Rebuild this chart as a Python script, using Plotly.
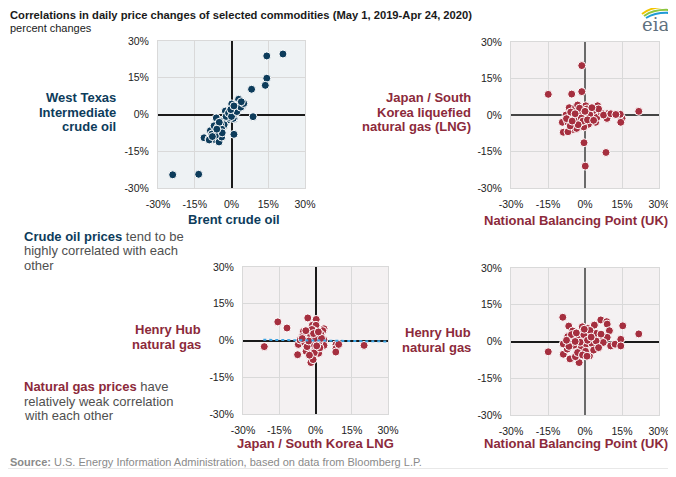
import plotly.graph_objects as go

# window 676x477; page body has an 8px margin, so the figure starts at (8, 8)
WIN_W, WIN_H = 676, 477
OFF = 8
W, H = WIN_W - OFF, WIN_H - 2 * OFF

# ---------------- data (percent changes) ----------------
brent_x = [21.0, 14.4, 14.4, 13.8, 8.2, 8.8, -24.0, -13.4, 1.0, -11.2, -9.2, -6.6, -5.1, -4.0,
           -8.6, -7.1, -5.4, -6.2, -4.3, -2.1, -2.5, 0.3, 0.5, 0.1, 2.9, 2.4, 1.1, -0.6, 4.2,
           -4.7, -7.4, -3.3, -8.0, -9.1, -0.1, 1.6, 0.7,
           -1.5, -1.0, -0.5, 0.8, 1.2, 2.0, 3.0, 3.5, 4.5, -2.8, -3.5, -1.8, -0.8, 0.2, 1.5,
           2.5, -3.0, -4.5, -5.5, -6.5, -4.0, -2.2, 0.6, 1.8, -1.2, 0.0, 2.2, 3.8, -5.0, -3.8,
           -6.0, -7.8, 5.0, 4.0, -0.3, 1.0]
wti_y = [24.7, 23.9, 14.8, 11.9, 10.3, -0.9, -24.6, -24.4, -8.1, -9.5, -10.0, -10.3, -11.2, -9.2,
         -6.6, -4.6, -5.0, -1.4, -2.9, -2.0, 1.4, 0.1, 2.8, 4.3, 6.2, 2.8, -1.7, 1.7, 4.1,
         -6.6, -7.7, -5.0, -8.0, -10.4, 0.2, 1.7, -1.6,
         -1.0, -0.5, 0.3, 0.9, 1.5, 2.2, 3.5, 4.5, 3.8, -3.5, -2.8, -2.3, -1.2, -0.4, 0.5,
         3.0, -4.2, -4.0, -7.0, -8.5, -6.0, -0.8, 1.0, 2.6, 0.6, -0.8, 1.2, 3.0, -3.2, -7.5,
         -6.0, -9.0, 4.5, 5.2, 2.0, 3.5]

nbp_x1 = [-1.3, -14.9, -5.4, -1.3, -0.4, 0.1, 8.5, 21.8, 15.0, 14.5, 14.3, 9.0, 8.9, 5.1, 0.3,
          4.3, 1.4, -0.5, -5.1, -8.8, -6.9, -9.2, -6.9, -7.7, -6.4, -3.8, -3.0, -3.8, 3.0, 3.8,
          6.1, 11.5, -2.0, -3.4,
          -1.0, 0.5, 1.5, -2.5, 2.5, -4.5, -5.8, -3.0, 0.8, 2.0, -1.5, 4.8, 6.5, 7.5, -0.8,
          1.0, -2.2, -4.0, 3.5, 5.5, -6.0, -7.5, 0.0, -2.8, 2.8, 10.5, 12.5, -5.2]
jkm_y1 = [20.3, 8.5, 8.6, 9.6, -11.4, -21.0, -15.4, 1.5, -1.4, -3.0, 0.3, 0.5, -1.4, 3.8, 3.8,
          -3.0, -3.8, -4.9, -6.0, -7.1, -6.9, -3.0, -3.0, 0.0, 3.0, 3.3, 4.1, -1.0, 2.1, 0.3,
          0.5, 0.3, -3.0, -5.5,
          0.5, -0.5, 1.0, 1.5, -1.5, -2.0, 1.2, -1.8, 2.5, 0.0, -1.2, -1.0, 1.0, 0.0, -2.5,
          -2.0, 2.8, 0.5, -2.2, 2.5, -4.5, -1.5, 1.5, -4.0, 3.0, 0.5, 0.2, -2.5]

jkm_x2 = [-21.2, -15.6, -11.8, -7.4, -7.1, -5.0, -3.2, -3.2, 0.3, -1.3, 0.2, -0.6, 3.5, 3.0, 3.5,
          3.5, 1.3, -0.2, -1.2, -1.9, -3.9, 8.5, 8.5, 8.4, 9.6, 20.1, -6.4, -2.3, -5.4, 1.0,
          -0.5, -3.0,
          -1.0, 0.8, -2.0, 1.5, -4.5, -0.5, 2.2, -3.5, 0.0, -1.5, 1.8, -2.8, 2.5, -0.8, -5.5,
          -1.0, 0.5, -2.5, 1.2, -4.0]
hh_y2 = [-2.5, 7.6, 5.1, -5.8, -1.6, 3.7, 3.1, 9.2, 8.6, 6.2, 6.2, 3.9, 4.8, 4.0, 0.2,
         -2.0, -5.2, -3.6, -6.9, -9.0, -4.4, -1.7, -3.3, -4.7, -1.6, -2.0, 0.2, 0.2, 1.6, -1.0,
         1.5, -1.6,
         -1.5, 1.2, 2.2, -0.5, -0.8, -5.0, 2.5, -2.5, 0.8, 4.5, -3.0, -0.2, 0.9, 2.8, 0.8,
         -7.8, -2.2, -6.0, 3.5, 4.0]
trend_x = [-21.6, 30.0]
trend_y = [0.3, -0.4]

nbp_x3 = [-14.9, -9.0, -8.8, -6.1, -2.4, -3.9, -7.2, -8.8, -6.6, -5.0, -7.0, -3.9, -1.1, -0.7,
          0.9, 3.8, 6.4, 8.8, 9.0, 9.9, 9.0, 10.4, 12.2, 14.5, 14.5, 15.3, 21.8, 4.5, 3.4, 1.8,
          -2.7, -1.3, 2.4, 6.1, 7.4,
          -1.5, 0.5, 1.5, -2.5, 2.8, -4.5, -0.5, 0.2, 3.5, -3.0, -5.5, 1.0, -1.0, 4.5, -3.5,
          2.0, -6.5, 5.5, -0.3, 0.8, -2.0, 2.5, -4.0, 6.5, -7.5]
hh_y3 = [-4.2, 9.9, -5.2, -7.1, -8.6, -6.2, -3.1, -1.0, 6.3, 4.3, 2.0, 0.3, 6.0, 4.0,
         5.4, 6.7, 8.8, 8.1, 7.1, 4.4, 1.7, -1.8, -1.1, 0.9, -1.8, 6.4, 3.1, 3.3, -2.4, -5.9,
         -3.5, 0.9, 1.3, 0.6, -0.4,
         -2.0, -1.0, 2.5, 1.5, -0.8, -1.5, 2.8, -4.0, -3.5, -4.5, 2.8, 0.5, -5.5, 0.2, 3.5,
         4.5, -2.0, -2.5, 5.0, -6.0, -0.3, 1.8, 0.0, 3.0, 0.5]

tick_vals = [-30, -15, 0, 15, 30]
tick_text = ["-30%", "-15%", "0%", "15%", "30%"]

# ---------------- styling ----------------
BLUE = "#0d3c5b"
RED = "#a52f3f"
RED_TXT = "#8c2a3b"
GRAY_TXT = "#505050"
FONT = "Liberation Sans, Arial, sans-serif"


def px(x):
    return (x - OFF) / W


def py(y):
    return 1 - (y - OFF) / H


fig = go.Figure()

panels = [
    ("x", "y", brent_x, wti_y, BLUE, (158, 305), (41, 188), "#eef2f4", "#1a1a1a", "#1a1a1a"),
    ("x2", "y2", nbp_x1, jkm_y1, RED, (511, 659), (42, 188), "#f4f1f2", "#6a6a6a", "#444444"),
    ("x3", "y3", jkm_x2, hh_y2, RED, (243, 388), (267, 414), "#f4f1f2", "#1a1a1a", "#1a1a1a"),
    ("x4", "y4", nbp_x3, hh_y3, RED, (511, 659), (268, 415), "#f4f1f2", "#6a6a6a", "#1a1a1a"),
]

for i, (xa, ya, xs, ys, col, xd, yd, bg, zxc, zyc) in enumerate(panels):
    fig.add_trace(go.Scatter(
        x=xs, y=ys, mode="markers", xaxis=xa, yaxis=ya, showlegend=False,
        marker=dict(size=8, color=col, line=dict(color="white", width=1)),
        hoverinfo="skip"))
    if i == 2:
        fig.add_trace(go.Scatter(
            x=trend_x, y=trend_y, mode="lines", xaxis=xa, yaxis=ya, showlegend=False,
            line=dict(color="#3aa3e3", width=2, dash="dot"), hoverinfo="skip"))
    suffix = "" if i == 0 else str(i + 1)
    common = dict(range=[-30, 30], tickvals=tick_vals, ticktext=tick_text,
                  showgrid=True, gridcolor="#d9d9d9", gridwidth=1,
                  showline=True, linecolor="#d9d9d9", linewidth=1, mirror=True,
                  ticks="", ticklabelstandoff=6, automargin=False,
                  ticklabeloverflow="allow",
                  tickfont=dict(family=FONT, size=10.5, color="#222222"),
                  zeroline=True, fixedrange=True)
    fig.update_layout(**{
        "xaxis" + suffix: dict(common, domain=[px(xd[0]), px(xd[1])],
                               anchor="y" + suffix, zerolinecolor=zxc,
                               zerolinewidth=2 if zxc == "#6a6a6a" else 1.5),
        "yaxis" + suffix: dict(common, domain=[py(yd[1]), py(yd[0])],
                               anchor="x" + suffix, zerolinecolor=zyc, zerolinewidth=1.5),
    })
    fig.add_shape(type="rect", xref="x" + suffix + " domain", yref="y" + suffix + " domain",
                  x0=0, x1=1, y0=0, y1=1, fillcolor=bg, line=dict(width=0), layer="below")

annotations = []


def ann(text, x, y, xanchor="center", size=13, color="#000", family=FONT):
    annotations.append(dict(text=text, x=px(x), y=py(y), xref="paper", yref="paper",
                            xanchor=xanchor, yanchor="middle", showarrow=False,
                            font=dict(family=family, size=size, color=color)))


# title
ann("<b>Correlations in daily price changes of selected commodities (May 1, 2019-Apr 24, 2020)</b>",
    8, 15, "left", 11.2, "#1a1a1a")
ann("percent changes", 8, 28, "left", 11, "#1a1a1a")

# y-axis labels
for t, yy in zip(["West Texas", "Intermediate", "crude oil"], [97, 112, 126]):
    ann("<b>" + t + "</b>", 118, yy, "right", 13, BLUE)
for t, yy in zip(["Japan / South", "Korea liquefied", "natural gas (LNG)"], [97, 112, 126]):
    ann("<b>" + t + "</b>", 473, yy, "right", 13, RED_TXT)
for t, yy in zip(["Henry Hub", "natural gas"], [329, 344]):
    ann("<b>" + t + "</b>", 203, yy, "right", 13, RED_TXT)
for t, yy in zip(["Henry Hub", "natural gas"], [332, 347]):
    ann("<b>" + t + "</b>", 473, yy, "right", 13, RED_TXT)

# x-axis labels
ann("<b>Brent crude oil</b>", 234, 219, "center", 13, BLUE)
ann("<b>National Balancing Point (UK)</b>", 576, 220, "center", 13, RED_TXT)
ann("<b>Japan / South Korea LNG</b>", 315, 443, "center", 13, RED_TXT)
ann("<b>National Balancing Point (UK)</b>", 576, 443, "center", 13, RED_TXT)

# commentary
ann("<span style='color:%s'><b>Crude oil prices</b></span> tend to be" % BLUE, 22, 236, "left", 13, GRAY_TXT)
ann("highly correlated with each", 22, 251, "left", 13, GRAY_TXT)
ann("other", 22, 265, "left", 13, GRAY_TXT)
ann("<span style='color:%s'><b>Natural gas prices</b></span> have" % RED_TXT, 22, 386, "left", 13, GRAY_TXT)
ann("relatively weak correlation", 22, 401, "left", 13, GRAY_TXT)
ann("with each other", 22, 415, "left", 13, GRAY_TXT)

# source
ann("<b>Source:</b> U.S. Energy Information Administration, based on data from Bloomberg L.P.",
    8, 462, "left", 11, "#8a8a8a")

# eia logo
ann("eia", 655, 24, "center", 18, "#5f7180", "DejaVu Serif, serif")

fig.update_layout(annotations=annotations)

shapes = list(fig.layout.shapes)
for col, d in [("#f2c500", "M 642 14 Q 652 6 669 7"),
               ("#8cc63f", "M 644 16 Q 654 9 670 10"),
               ("#1f9ad6", "M 646 18 Q 656 12 670 13")]:
    pts = d.split()
    conv = []
    j = 0
    while j < len(pts):
        tok = pts[j]
        if tok in ("M", "Q"):
            conv.append(tok)
            j += 1
        else:
            conv.append("%.4f,%.4f" % (px(float(pts[j])), py(float(pts[j + 1]))))
            j += 2
    shapes.append(dict(type="path", xref="paper", yref="paper", path=" ".join(conv),
                       line=dict(color=col, width=2)))
shapes.append(dict(type="line", xref="paper", yref="paper", x0=0, x1=1,
                   y0=py(469), y1=py(469), line=dict(color="#d0d0d0", width=1)))
fig.update_layout(shapes=shapes)

fig.update_layout(width=W, height=H,
                  margin=dict(l=0, r=0, t=0, b=0, pad=0, autoexpand=False),
                  paper_bgcolor="white", plot_bgcolor="rgba(0,0,0,0)",
                  font=dict(family=FONT))

fig.write_html("out.html")
